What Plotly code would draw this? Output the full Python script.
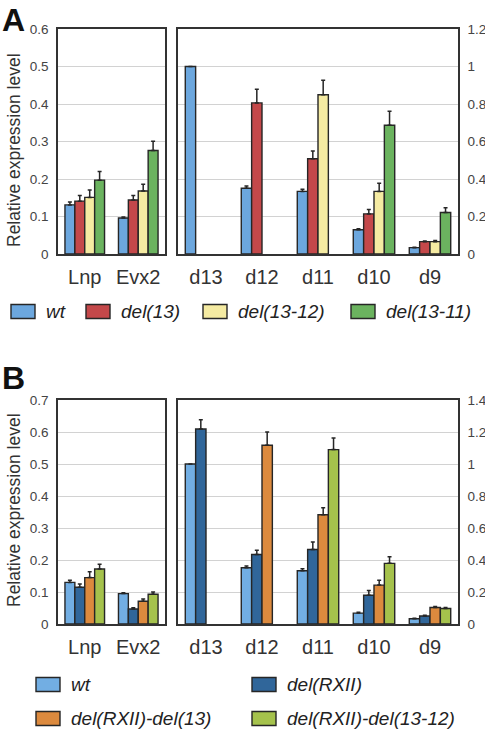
import plotly.graph_objects as go

W, H = 485, 731
FONT = "Liberation Sans, Arial, Helvetica, sans-serif"

# ---------------- data ----------------
cats_left = ["Lnp", "Evx2"]
cats_right = ["d13", "d12", "d11", "d10", "d9"]

a_names = ["wt", "del(13)", "del(13-12)", "del(13-11)"]
a_colors = ["#6CA7DE", "#C4484A", "#F5EBA2", "#6BB35F"]
a_left_vals = [[0.131, 0.096], [0.141, 0.144], [0.151, 0.168], [0.197, 0.276]]
a_left_errs = [[0.008, 0.003], [0.015, 0.012], [0.020, 0.018], [0.023, 0.025]]
a_right_vals = [
    [1.0, 0.351, 0.334, 0.129, 0.034],
    [None, 0.806, 0.508, 0.214, 0.066],
    [None, None, 0.849, 0.334, 0.066],
    [None, None, None, 0.687, 0.221],
]
a_right_errs = [
    [0, 0.012, 0.012, 0.006, 0.002],
    [0, 0.073, 0.042, 0.023, 0.004],
    [0, 0, 0.078, 0.044, 0.006],
    [0, 0, 0, 0.075, 0.026],
]

b_names = ["wt", "del(RXII)", "del(RXII)-del(13)", "del(RXII)-del(13-12)"]
b_colors = ["#72AEE3", "#30669A", "#DC8A3E", "#A5C24C"]
b_left_vals = [[0.130, 0.095], [0.115, 0.047], [0.145, 0.071], [0.172, 0.093]]
b_left_errs = [[0.007, 0.003], [0.010, 0.004], [0.018, 0.007], [0.015, 0.007]]
b_right_vals = [
    [1.0, 0.352, 0.333, 0.068, 0.033],
    [1.219, 0.434, 0.466, 0.180, 0.050],
    [None, 1.117, 0.683, 0.243, 0.103],
    [None, None, 1.090, 0.379, 0.097],
]
b_right_errs = [
    [0, 0.010, 0.012, 0.005, 0.003],
    [0.058, 0.027, 0.047, 0.030, 0.005],
    [0, 0.083, 0.043, 0.031, 0.006],
    [0, 0, 0.073, 0.041, 0.006],
]

y_title = "Relative expression level"

# ---------------- helpers ----------------
def px(x):
    return x / W

def py(y):
    return 1 - y / H

fig = go.Figure()

def add_bars(cats, vals, errs, colors, names, xa, ya):
    for v, e, c, n in zip(vals, errs, colors, names):
        fig.add_trace(go.Bar(
            x=cats, y=v, name=n, marker=dict(color=c, line=dict(color="#262626", width=1.4)),
            error_y=dict(type="data", array=e, arrayminus=[0] * len(e), symmetric=False,
                         color="#262626", thickness=1.5, width=2),
            xaxis=xa, yaxis=ya, showlegend=False,
        ))

add_bars(cats_left, a_left_vals, a_left_errs, a_colors, a_names, "x", "y")
add_bars(cats_right, a_right_vals, a_right_errs, a_colors, a_names, "x2", "y2")
add_bars(cats_left, b_left_vals, b_left_errs, b_colors, b_names, "x3", "y3")
add_bars(cats_right, b_right_vals, b_right_errs, b_colors, b_names, "x4", "y4")

LINE = "#333333"
GRID = "#d2d2d2"

def xax(domain, anchor):
    return dict(domain=domain, anchor=anchor, showline=True, mirror=True, linecolor=LINE,
                linewidth=1.7, ticks="", showgrid=False, fixedrange=True, automargin=False,
                tickfont=dict(family=FONT, size=20, color="#333"), ticklabelstandoff=4)

def yax(domain, anchor, rng, dtick, side="left", standoff=5):
    return dict(domain=domain, anchor=anchor, range=rng, dtick=dtick, side=side,
                showline=True, mirror=True, linecolor=LINE, linewidth=1.7, ticks="",
                showgrid=True, gridcolor=GRID, gridwidth=1, zeroline=False, automargin=False,
                fixedrange=True,
                tickfont=dict(family=FONT, size=13.5, color="#444"), ticklabelstandoff=standoff)

xl = [px(58), px(165)]
xr = [px(178), px(458)]
ya = [py(254), py(29)]
yb = [py(624), py(400)]

fig.update_layout(
    template="none",
    width=W, height=H, margin=dict(l=0, r=0, t=0, b=0, pad=0, autoexpand=False),
    paper_bgcolor="white", plot_bgcolor="white",
    barmode="group", bargap=0.26, bargroupgap=0, showlegend=False,
    font=dict(family=FONT, color="#222"),
    xaxis=xax(xl, "y"), yaxis=yax(ya, "x", [0, 0.6], 0.1),
    xaxis2=xax(xr, "y2"), yaxis2=yax(ya, "x2", [0, 1.2], 0.2, "right", 5),
    xaxis3=xax(xl, "y3"), yaxis3=yax(yb, "x3", [0, 0.7], 0.1),
    xaxis4=xax(xr, "y4"), yaxis4=yax(yb, "x4", [0, 1.4], 0.2, "right", 5),
)

ann = []
shapes = []
# panel letters
ann.append(dict(text="<b>A</b>", x=px(0), y=py(0), xref="paper", yref="paper", xanchor="left",
                yanchor="top", showarrow=False, font=dict(family=FONT, size=32, color="#111")))
ann.append(dict(text="<b>B</b>", x=px(0), y=py(378), xref="paper", yref="paper", xanchor="left",
                yanchor="middle", showarrow=False, font=dict(family=FONT, size=32, color="#111")))
# y titles
for yc in (150, 510):
    ann.append(dict(text=y_title, x=px(14), y=py(yc), xref="paper", yref="paper", textangle=-90,
                    xanchor="center", yanchor="middle", showarrow=False,
                    font=dict(family=FONT, size=17.5, color="#333")))

# legends
def legend_item(name, color, x0, yc):
    shapes.append(dict(type="rect", xref="paper", yref="paper", x0=px(x0), x1=px(x0 + 24),
                       y0=py(yc - 7), y1=py(yc + 7), fillcolor=color,
                       line=dict(color="#262626", width=1.4)))
    ann.append(dict(text="<i>%s</i>" % name, x=px(x0 + 33), y=py(yc), xref="paper", yref="paper",
                    xanchor="left", yanchor="middle", showarrow=False,
                    font=dict(family=FONT, size=19, color="#222")))

a_leg_x = [11, 86, 203, 351]
for n, c, x0 in zip(a_names, a_colors, a_leg_x):
    legend_item(n, c, x0, 311.5)

b_leg_pos = [(36, 684.5), (252, 684.5), (36, 718.5), (252, 718.5)]
for n, c, (x0, yc) in zip(b_names, b_colors, b_leg_pos):
    legend_item(n, c, x0, yc)

fig.update_layout(annotations=ann, shapes=shapes)
fig.write_html(
    "out.html",
    config={"displayModeBar": False, "staticPlot": True},
    post_script="document.body.style.margin='0';document.body.style.padding='0';"
                "document.documentElement.style.overflow='hidden';",
)
